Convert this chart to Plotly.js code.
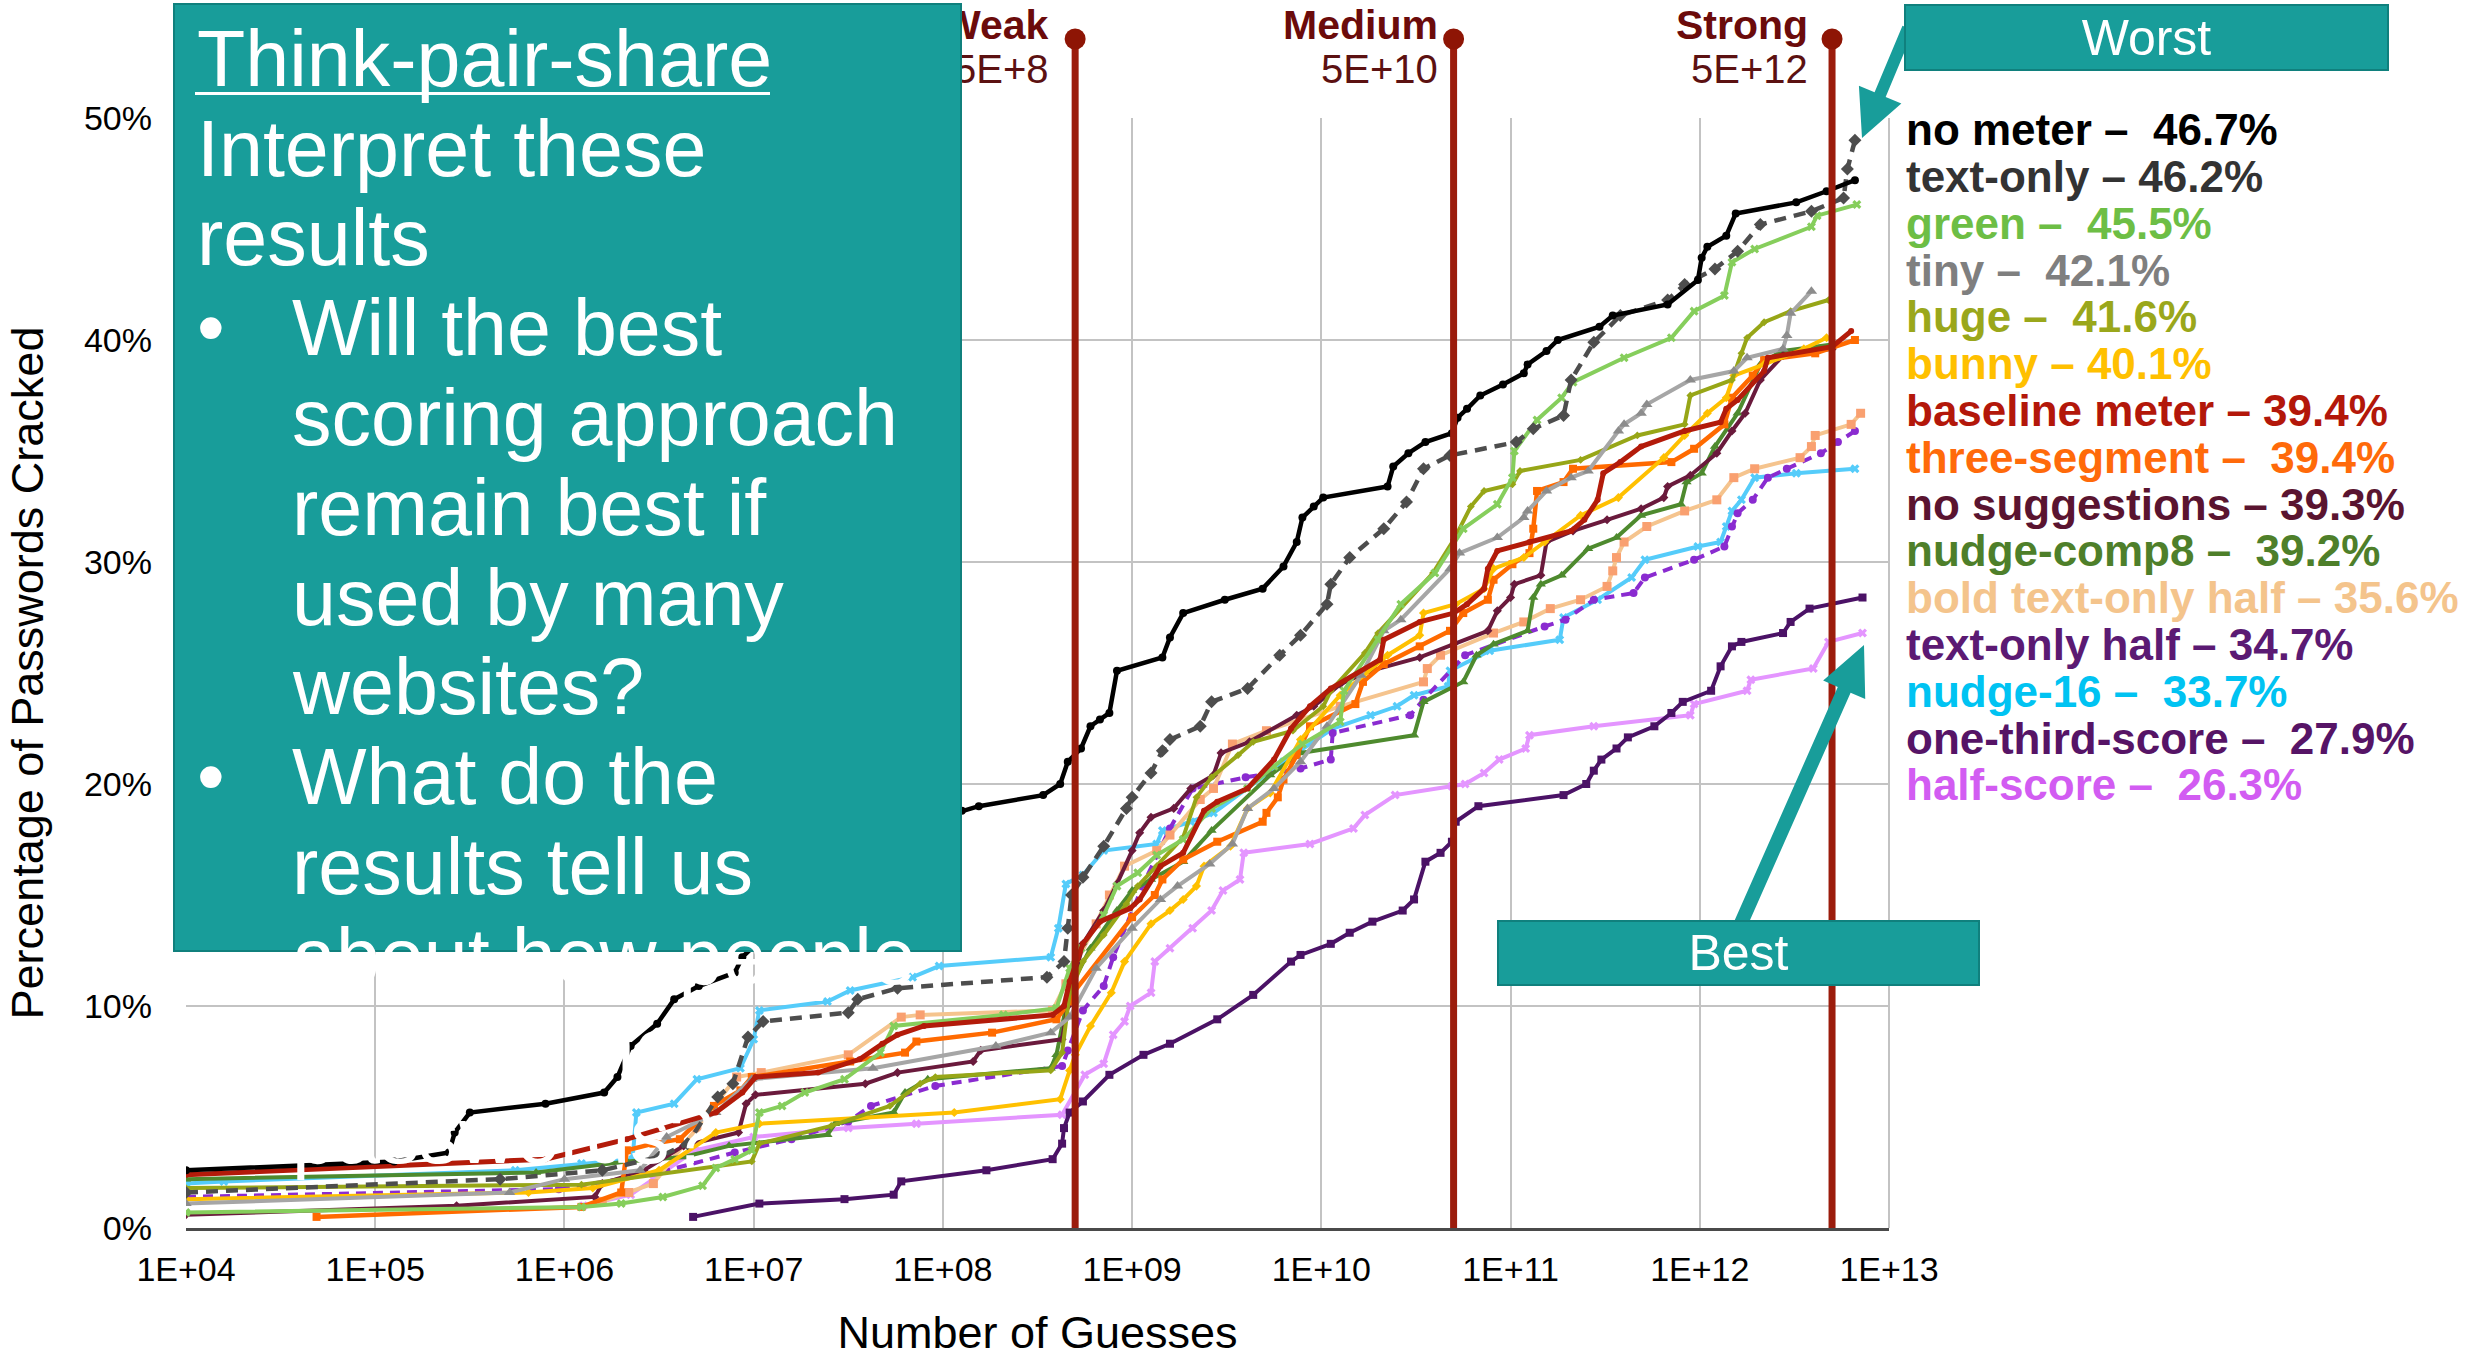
<!DOCTYPE html>
<html>
<head>
<meta charset="utf-8">
<script src="https://cdn.plot.ly/plotly-3.0.1.min.js"></script>
<style>
html,body{margin:0;padding:0;background:#ffffff;}
#chart{width:2468px;height:1358px;}
</style>
</head>
<body>
<div id="chart"></div>
<script>
// ---------------- DATA (x = log10 of number of guesses, y = % of passwords cracked) ----------------
const tickGuesses = [1e4, 1e5, 1e6, 1e7, 1e8, 1e9, 1e10, 1e11, 1e12, 1e13];
const tickLabels = ["1E+04","1E+05","1E+06","1E+07","1E+08","1E+09","1E+10","1E+11","1E+12","1E+13"];
const pctTicks = [0, 10, 20, 30, 40, 50];
const pctLabels = ["0%","10%","20%","30%","40%","50%"];

const thresholds = [5e8, 5e10, 5e12];
const thresholdNames = ["Weak", "Medium", "Strong"];
const thresholdLabels = ["5E+8", "5E+10", "5E+12"];

const noMeterX = [4.0,5.1,5.39,5.42,5.5,5.9,6.21,6.28,6.35,6.49,6.58,6.71,6.9,6.94,7.1,7.3,7.5,7.8,8.1,8.19,8.53,8.62,8.66,8.73,8.78,8.83,8.88,8.92,9.16,9.2,9.27,9.49,9.69,9.8,9.87,9.9,9.96,10.01,10.35,10.38,10.46,10.55,10.69,10.72,10.77,10.84,10.96,11.07,11.09,11.19,11.25,11.47,11.54,11.83,11.99,12.01,12.04,12.14,12.19,12.51,12.67,12.82];
const noMeterY = [2.6,3.0,3.4,4.3,5.2,5.6,6.1,6.8,8.2,9.2,10.3,10.9,11.5,12.2,13.5,15.0,16.5,18.0,18.8,19.0,19.5,20.0,21.0,21.6,22.6,22.9,23.2,25.1,25.7,26.6,27.7,28.3,28.8,29.8,30.9,32.0,32.5,32.9,33.4,34.3,34.9,35.4,35.8,36.5,36.9,37.5,38.0,38.5,38.9,39.5,40.0,40.6,41.1,41.6,42.7,43.7,44.2,44.7,45.7,46.2,46.7,47.2];

const textOnlyX = [4.0,5.66,6.2,6.5,6.65,6.81,6.89,6.97,7.05,7.5,7.55,7.76,8.55,8.64,8.66,8.68,8.74,8.85,8.97,9.0,9.1,9.16,9.2,9.36,9.42,9.61,9.78,9.89,10.03,10.05,10.15,10.33,10.45,10.54,10.68,11.03,11.12,11.28,11.32,11.44,11.58,11.83,11.92,12.08,12.2,12.32,12.59,12.76,12.78,12.82];
const textOnlyY = [1.6,2.2,2.6,3.2,3.8,5.9,6.5,8.6,9.3,9.7,10.3,10.8,11.3,12.0,13.5,15.0,15.8,17.2,18.9,19.4,20.5,21.5,22.0,22.6,23.7,24.3,25.8,26.7,28.1,29.0,30.2,31.5,32.7,34.2,34.8,35.4,36.0,36.6,38.2,39.9,41.1,41.8,42.5,43.2,44.0,45.2,45.8,46.4,47.7,49.0];

const greenX = [4.0,6.09,6.3,6.52,6.73,6.8,6.9,6.99,7.03,7.15,7.27,7.48,7.67,7.74,8.32,8.6,8.67,8.73,8.85,8.92,9.03,9.13,9.27,9.42,9.61,9.75,9.9,10.1,10.12,10.3,10.42,10.6,10.75,10.93,11.01,11.02,11.14,11.27,11.33,11.6,11.85,11.97,12.13,12.17,12.29,12.59,12.62,12.83];
const greenY = [0.7,0.95,1.1,1.4,1.9,2.7,3.1,3.5,5.2,5.5,6.1,6.7,7.9,9.1,9.6,9.9,11.7,12.6,14.1,15.4,16.0,16.8,17.5,18.9,19.8,20.8,21.8,22.8,24.2,26.5,28.1,29.5,31.5,32.6,33.8,35.0,36.4,37.4,38.1,39.2,40.1,41.3,42.0,43.5,44.1,45.1,45.6,46.1];

const tinyX = [4.0,5.71,6.0,6.4,6.54,6.8,6.99,7.63,8.28,8.57,8.67,8.81,9.0,9.15,9.24,9.41,9.53,9.61,9.75,9.89,10.03,10.21,10.33,10.42,10.68,10.73,10.93,11.07,11.09,11.19,11.32,11.41,11.57,11.6,11.69,11.72,11.95,12.18,12.25,12.44,12.46,12.48,12.59];
const tinyY = [1.1,1.6,2.2,2.6,4.1,5.2,6.7,7.2,8.2,8.8,9.5,11.7,13.5,14.8,15.4,16.4,17.3,18.9,19.8,21.0,22.6,24.9,26.9,27.4,29.7,30.4,31.1,32.0,32.3,33.2,33.8,34.1,35.9,36.2,36.7,37.1,38.2,38.6,39.2,39.6,40.2,41.2,42.2];

const hugeX = [4.0,6.09,6.99,7.03,7.41,7.72,7.88,7.96,8.57,8.63,8.67,8.74,8.85,8.97,9.03,9.13,9.27,9.34,9.42,9.56,9.64,9.85,10.01,10.05,10.23,10.3,10.59,10.7,10.79,10.86,11.01,11.05,11.37,11.67,11.92,11.95,12.17,12.22,12.25,12.34,12.48,12.68];
const hugeY = [1.8,1.95,3.0,3.8,4.6,5.5,6.5,6.8,7.1,7.9,10.6,12.0,13.2,14.6,15.4,16.3,17.6,19.4,20.3,21.3,21.9,22.4,23.5,24.2,25.9,26.8,29.5,31.0,32.5,33.2,33.5,34.1,34.6,35.7,36.2,37.5,38.2,39.4,40.1,40.8,41.3,41.8];

const bunnyX = [4.0,5.81,6.15,6.5,6.8,7.03,8.06,8.62,8.67,8.7,8.78,8.89,8.96,9.1,9.2,9.27,9.34,9.38,9.52,9.61,9.73,9.89,10.1,10.35,10.52,10.54,10.71,10.86,10.91,11.07,11.18,11.37,11.57,11.81,11.92,12.04,12.14,12.18,12.34,12.55,12.67];
const bunnyY = [1.3,1.6,1.8,2.6,4.3,4.7,5.2,5.8,7.1,7.8,9.1,10.6,12.0,13.7,14.3,14.8,15.4,16.3,17.2,18.9,19.6,22.0,24.0,25.8,26.7,27.7,28.1,28.8,29.7,30.2,30.9,32.1,32.9,34.7,35.7,36.7,37.4,38.4,38.9,39.6,40.1];

const baselineX = [4.0,5.9,6.33,6.8,6.94,7.01,7.34,7.56,7.68,7.76,7.9,8.58,8.64,8.67,8.74,8.83,8.99,9.04,9.15,9.27,9.38,9.45,9.61,9.75,9.84,9.94,10.05,10.31,10.33,10.52,10.7,10.77,10.86,10.88,10.93,11.1,11.32,11.39,11.46,11.49,11.58,11.69,11.92,12.11,12.14,12.2,12.34,12.36,12.7,12.8];
const baselineY = [2.4,3.1,4.0,5.2,6.1,6.8,7.0,7.6,8.3,8.7,9.1,9.6,10.0,11.1,12.8,13.8,14.4,14.8,16.3,16.9,18.8,19.2,19.8,21.1,22.5,23.5,24.3,25.6,26.5,27.3,27.7,28.1,28.8,29.7,30.5,30.9,31.4,31.9,32.8,34.0,34.5,35.2,35.9,36.3,36.9,37.3,38.6,39.2,39.7,40.4];

const threeSegX = [4.69,6.09,6.3,6.33,6.47,6.61,6.79,6.93,6.99,7.51,7.8,7.86,8.26,8.6,8.67,8.69,9.0,9.12,9.16,9.27,9.45,9.69,9.71,9.77,9.8,9.87,9.94,10.18,10.22,10.33,10.52,10.68,10.75,10.88,10.91,11.01,11.1,11.12,11.14,11.28,11.33,11.85,11.97,12.13,12.17,12.28,12.34,12.61,12.82];
const threeSegY = [0.5,0.95,1.6,3.5,3.8,4.0,5.5,6.2,6.8,7.5,7.9,8.4,8.8,9.4,10.2,10.6,14.0,15.0,15.7,16.6,17.4,18.3,18.7,19.4,20.2,21.3,22.6,23.6,24.6,25.4,26.2,26.9,27.7,28.3,29.2,29.9,30.4,31.5,33.2,33.6,34.2,34.5,35.1,36.2,37.4,38.4,39.1,39.4,40.0];

const noSuggX = [4.0,5.43,6.16,6.2,6.42,6.63,6.92,6.96,7.01,7.59,7.76,8.16,8.2,8.63,8.66,8.74,8.85,8.92,9.0,9.04,9.1,9.22,9.31,9.43,9.47,9.62,9.87,9.96,10.1,10.26,10.52,10.7,10.88,10.93,11.0,11.02,11.16,11.19,11.33,11.51,11.69,11.81,11.83,11.95,12.09,12.17,12.24,12.32,12.44,12.7];
const noSuggY = [0.6,1.0,1.4,2.0,2.6,3.7,4.3,5.6,6.0,6.5,7.0,7.5,8.0,8.5,10.0,12.8,14.3,15.5,17.0,17.8,18.5,18.9,19.8,20.4,21.4,21.9,23.1,23.5,24.5,25.1,25.7,26.3,26.9,27.8,28.4,29.0,29.4,30.9,31.4,31.9,32.4,32.9,33.4,33.9,34.9,35.9,36.7,38.2,39.3,39.6];

const nudgeComp8X = [4.0,5.85,6.33,6.63,6.87,7.39,7.43,7.74,7.8,7.92,8.57,8.6,8.67,8.78,8.92,9.0,9.1,9.27,9.42,9.73,9.89,10.49,10.54,10.75,10.82,10.91,11.09,11.12,11.16,11.27,11.41,11.56,11.69,11.9,11.93,12.01,12.08,12.2,12.32,12.43,12.7];
const nudgeComp8Y = [2.2,2.5,3.0,3.2,3.7,4.2,4.7,5.2,6.1,6.7,7.2,7.8,10.8,12.6,14.3,15.2,15.7,16.5,17.9,20.4,21.4,22.2,23.7,24.6,25.8,26.3,26.9,28.4,29.0,29.4,30.6,31.1,32.1,32.6,33.6,34.0,35.2,36.7,38.9,39.5,39.8];

const boldHalfX = [6.2,6.34,6.47,6.7,6.91,7.04,7.5,7.78,7.88,8.58,8.65,8.81,8.88,8.96,9.13,9.2,9.36,9.43,9.53,9.71,10.1,10.54,10.56,10.63,10.91,11.07,11.21,11.37,11.51,11.54,11.56,11.6,11.72,11.92,12.09,12.18,12.29,12.53,12.59,12.61,12.8,12.85];
const boldHalfY = [1.2,1.6,2.0,4.5,6.8,7.0,7.8,9.5,9.6,9.8,11.0,13.7,15.0,16.3,17.0,17.7,19.3,19.8,21.8,22.4,23.5,24.6,25.2,25.8,26.8,27.3,27.9,28.3,28.9,29.6,30.2,30.9,31.6,32.3,32.8,33.8,34.2,34.7,35.2,35.7,36.2,36.7];

const textHalfX = [4.0,5.97,6.5,6.9,7.2,7.5,7.62,7.96,8.63,8.66,8.74,8.85,8.9,9.06,9.2,9.32,9.6,9.89,10.05,10.06,10.47,10.54,10.76,11.18,11.29,11.44,11.65,11.71,11.97,12.13,12.17,12.2,12.28,12.36,12.46,12.64,12.73,12.82];
const textHalfY = [1.4,1.75,2.5,3.4,4.0,4.8,5.5,6.4,7.3,8.0,9.8,10.9,12.2,15.5,18.0,19.8,20.3,20.7,21.1,22.3,23.1,23.8,25.8,27.1,27.4,28.3,28.6,29.3,30.1,30.7,31.6,32.2,32.8,33.8,34.2,34.9,35.4,35.9];

const nudge16X = [4.0,4.2,5.74,6.09,6.36,6.38,6.58,6.7,6.93,7.0,7.03,7.39,7.51,7.84,7.98,8.57,8.61,8.65,8.74,8.85,9.13,9.16,9.31,9.43,9.8,10.06,10.26,10.4,10.49,10.67,10.68,10.89,11.26,11.28,11.46,11.64,11.71,11.99,12.11,12.14,12.17,12.22,12.29,12.51,12.82];
const nudge16Y = [2.0,2.1,2.6,2.9,3.1,5.2,5.6,6.7,7.2,8.5,9.8,10.2,10.7,11.3,11.8,12.2,13.5,15.5,15.9,17.0,17.3,17.9,18.3,18.7,21.0,22.5,23.1,23.5,24.0,24.4,25.1,26.0,26.5,27.5,28.3,29.3,30.1,30.7,30.9,31.6,32.3,32.8,33.8,34.0,34.2];

const oneThirdX = [6.68,7.03,7.48,7.74,7.78,8.23,8.58,8.63,8.64,8.67,8.74,8.88,9.06,9.2,9.45,9.64,9.84,9.89,10.05,10.15,10.27,10.43,10.49,10.55,10.63,10.69,10.71,10.83,11.28,11.4,11.44,11.48,11.56,11.62,11.76,11.85,11.91,12.06,12.11,12.17,12.22,12.44,12.48,12.58,12.86];
const oneThirdY = [0.5,1.1,1.3,1.5,2.1,2.6,3.1,3.8,4.5,5.2,5.7,6.9,7.8,8.3,9.4,10.5,12.0,12.3,12.8,13.3,13.8,14.3,14.8,16.5,16.9,17.4,18.3,19.0,19.5,20.0,20.6,21.1,21.6,22.1,22.6,23.2,23.7,24.2,25.3,26.2,26.4,26.8,27.3,27.9,28.4];

const halfScoreX = [6.1,6.35,6.47,6.69,7.0,7.5,7.86,8.63,8.75,8.85,8.9,8.96,8.99,9.1,9.12,9.2,9.32,9.42,9.48,9.57,9.59,9.94,10.17,10.23,10.39,10.69,10.76,10.86,10.94,11.08,11.1,11.44,11.95,11.97,12.25,12.27,12.6,12.68,12.86];
const halfScoreY = [1.0,1.5,2.2,3.5,4.1,4.5,4.7,5.1,6.9,7.4,8.7,9.3,10.0,10.6,12.0,12.6,13.5,14.3,15.2,15.7,16.9,17.3,18.0,18.6,19.5,19.9,20.0,20.5,21.1,21.6,22.2,22.6,23.1,23.6,24.2,24.7,25.2,26.4,26.8];

const legendLabels = [
  "no meter \u2013 \u00a046.7%", "text-only \u2013 46.2%", "green \u2013 \u00a045.5%", "tiny \u2013 \u00a042.1%",
  "huge \u2013 \u00a041.6%", "bunny \u2013 40.1%", "baseline meter \u2013 39.4%", "three-segment \u2013 \u00a039.4%",
  "no suggestions \u2013 39.3%", "nudge-comp8 \u2013 \u00a039.2%", "bold text-only half \u2013 35.6%",
  "text-only half \u2013 34.7%", "nudge-16 \u2013 \u00a033.7%", "one-third-score \u2013 \u00a027.9%", "half-score \u2013 \u00a026.3%"
];
const legendColors = ["#000000","#333333","#6DBE45","#7F7F7F","#9AA71B","#FFC000","#B3170A","#FF6A0A",
  "#5A1430","#4E7F2A","#F4C48C","#5B1A73","#00C3F2","#561466","#D25CF2"];

const boxLines = ["Think-pair-share","Interpret these","results","Will the best","scoring approach",
  "remain best if","used by many","websites?","What do the","results tell us","about how people",
  "choose their","passwords?"];

// ---------------- GEOMETRY HELPERS ----------------
const W = 2468, H = 1358, ML = 186, MR = 579, MT = 118, MB = 130;
const PW = W - ML - MR, PH = H - MT - MB;
const fx = v => (v - ML) / PW;          // pixel x -> paper x
const fy = v => (H - MB - v) / PH;      // pixel y -> paper y
const FONT = '"Liberation Sans", Arial, Helvetica, sans-serif';
const TEAL = '#189D9A', TEAL_BORDER = '#10807D';
const XMIN = 4, XMAX = 13;
const guessToPaper = g => (Math.log10(g) - XMIN) / (XMAX - XMIN);

function textAt(txt, x, baseline, size, color, anchor, extra) {
  return Object.assign({
    xref: 'paper', yref: 'paper', x: fx(x), y: fy(baseline - 0.35 * size),
    xanchor: anchor, yanchor: 'middle', text: txt, showarrow: false, borderpad: 0,
    font: {family: FONT, size: size, color: color}
  }, extra || {});
}

// ---------------- TRACES ----------------
const pow10 = arr => arr.map(v => Math.pow(10, v));
function series(name, xs, ys, color, width, dash, symbol, msize, mcolor) {
  return {
    type: 'scatter', mode: 'lines+markers', name: name, x: pow10(xs), y: ys,
    line: {color: color, width: width, dash: dash || 'solid'},
    marker: {symbol: symbol, size: msize, color: mcolor || color, line: {width: 0}},
    hoverinfo: 'skip', showlegend: false
  };
}

const traces = [
  series('half-score', halfScoreX, halfScoreY, '#E495FF', 4, null, 'x', 8),
  series('one-third-score', oneThirdX, oneThirdY, '#4B1266', 4, null, 'square', 8),
  series('nudge-16', nudge16X, nudge16Y, '#55CCFA', 4, null, 'x', 8),
  series('text-only half', textHalfX, textHalfY, '#8A2BD0', 4, '10px,7px', 'circle', 8),
  series('bold text-only half', boldHalfX, boldHalfY, '#F5C48E', 4, null, 'square', 9, '#F9A070'),
  series('nudge-comp8', nudgeComp8X, nudgeComp8Y, '#4E8A2E', 4, null, 'triangle-up', 9),
  series('no suggestions', noSuggX, noSuggY, '#6A1A3C', 4, null, 'diamond', 7),
  series('three-segment', threeSegX, threeSegY, '#FF6A00', 4.5, null, 'square', 8),
  series('bunny', bunnyX, bunnyY, '#FFC000', 4, null, 'diamond', 7),
  series('huge', hugeX, hugeY, '#97A617', 4, null, 'diamond', 6),
  series('tiny', tinyX, tinyY, '#A6A6A6', 4, null, 'triangle-up', 10, '#8C8C8C'),
  series('green', greenX, greenY, '#86CE5C', 4, null, 'x', 8),
  series('baseline meter', baselineX, baselineY, '#B31B0A', 5, null, 'circle', 6),
  series('text-only', textOnlyX, textOnlyY, '#4D4D4D', 4.5, '12px,8px', 'diamond', 10),
  series('no meter', noMeterX, noMeterY, '#000000', 4.5, null, 'circle', 8)
];

// ---------------- SHAPES ----------------
const knobTop = 39; // px from top of the figure
const shapes = [];
// right border of the plot frame
shapes.push({type: 'line', xref: 'paper', yref: 'paper', x0: 1, x1: 1, y0: 0, y1: 1,
  line: {color: '#C3C3C3', width: 2}, layer: 'below'});
thresholds.forEach(t => {
  shapes.push({type: 'line', xref: 'x', yref: 'paper', x0: t, x1: t, y0: 0, y1: fy(knobTop),
    line: {color: '#9B1C0C', width: 7}, layer: 'above'});
  shapes.push({type: 'circle', xref: 'paper', yref: 'paper', xsizemode: 'pixel', ysizemode: 'pixel',
    xanchor: guessToPaper(t), yanchor: fy(knobTop), x0: -10.5, x1: 10.5, y0: -10.5, y1: 10.5,
    fillcolor: '#8E1505', line: {width: 0}, layer: 'above'});
});

function arrowPath(tx, ty, hx, hy, sw, hl, hw) {
  const dx = hx - tx, dy = hy - ty, L = Math.hypot(dx, dy);
  const ux = dx / L, uy = dy / L, nx = -uy, ny = ux;
  const bx = hx - ux * hl, by = hy - uy * hl;
  const pts = [
    [tx + nx * sw / 2, ty + ny * sw / 2], [bx + nx * sw / 2, by + ny * sw / 2],
    [bx + nx * hw / 2, by + ny * hw / 2], [hx, hy],
    [bx - nx * hw / 2, by - ny * hw / 2], [bx - nx * sw / 2, by - ny * sw / 2],
    [tx - nx * sw / 2, ty - ny * sw / 2]
  ];
  return 'M' + pts.map(p => fx(p[0]).toFixed(5) + ',' + fy(p[1]).toFixed(5)).join(' L') + ' Z';
}
shapes.push({type: 'path', xref: 'paper', yref: 'paper', path: arrowPath(1908, 28, 1862, 138, 12, 47, 46),
  fillcolor: TEAL, line: {width: 0}, layer: 'above'});
shapes.push({type: 'path', xref: 'paper', yref: 'paper', path: arrowPath(1738, 930, 1864, 645, 14, 49, 46),
  fillcolor: TEAL, line: {width: 0}, layer: 'above'});

// ---------------- ANNOTATIONS ----------------
const annotations = [];
const labelGaps = [25, 15, 23];
thresholds.forEach((t, i) => {
  const lx = ML + guessToPaper(t) * PW - labelGaps[i];
  annotations.push(textAt('<b>' + thresholdNames[i] + '</b>', lx, 39, 41, '#6B0B0B', 'right'));
  annotations.push(textAt(thresholdLabels[i], lx, 83, 40, '#5C1111', 'right'));
});

// teal discussion box (drawn over the Weak label, as in the slide)
annotations.push({xref: 'paper', yref: 'paper', x: fx(173), y: fy(3), xanchor: 'left', yanchor: 'top',
  text: ' ', showarrow: false, width: 785, height: 945, bgcolor: TEAL, bordercolor: TEAL_BORDER,
  borderwidth: 2, borderpad: 0, font: {size: 10, color: TEAL}});
// underline of the heading
annotations.push({xref: 'paper', yref: 'paper', x: fx(195), y: fy(93), xanchor: 'left', yanchor: 'middle',
  text: ' ', showarrow: false, width: 575, height: 3, bgcolor: '#ffffff', borderwidth: 0, borderpad: 0,
  font: {size: 1, color: '#ffffff'}});

const boxBase0 = 86, boxStep = 89.8;
boxLines.forEach((ln, i) => {
  const x = i < 3 ? 196 : 291;
  annotations.push(textAt(ln, x, boxBase0 + i * boxStep, 79, '#ffffff', 'left'));
});
[3, 8].forEach(i => annotations.push(textAt('\u2022', 196, boxBase0 + i * boxStep, 79, '#ffffff', 'left')));

// Worst / Best boxes
annotations.push({xref: 'paper', yref: 'paper', x: fx(1904), y: fy(4), xanchor: 'left', yanchor: 'top',
  text: 'Worst', showarrow: false, width: 481, height: 63, bgcolor: TEAL, bordercolor: TEAL_BORDER,
  borderwidth: 2, borderpad: 0, font: {family: FONT, size: 50, color: '#ffffff'}});
annotations.push({xref: 'paper', yref: 'paper', x: fx(1497), y: fy(920), xanchor: 'left', yanchor: 'top',
  text: 'Best', showarrow: false, width: 479, height: 62, bgcolor: TEAL, bordercolor: TEAL_BORDER,
  borderwidth: 2, borderpad: 0, font: {family: FONT, size: 50, color: '#ffffff'}});

// right-hand labels
legendLabels.forEach((lab, i) => {
  annotations.push(textAt('<b>' + lab + '</b>', 1905, 145 + i * 46.8, 44, legendColors[i], 'left'));
});

// ---------------- LAYOUT ----------------
const layout = {
  width: W, height: H,
  margin: {l: ML, r: MR, t: MT, b: MB, pad: 0},
  paper_bgcolor: '#ffffff', plot_bgcolor: '#ffffff',
  font: {family: FONT, color: '#000000'},
  showlegend: false,
  xaxis: {
    type: 'log', range: [XMIN, XMAX], tickvals: tickGuesses, ticktext: tickLabels,
    showgrid: true, gridcolor: '#C3C3C3', gridwidth: 2, zeroline: false,
    showline: true, linecolor: '#4A4A4A', linewidth: 3, ticks: '',
    tickfont: {family: FONT, size: 34, color: '#000000'}, ticklabelstandoff: 9,
    title: {text: 'Number of Guesses', font: {family: FONT, size: 45, color: '#000000'}, standoff: 39},
    fixedrange: true
  },
  yaxis: {
    range: [0, 50], tickvals: pctTicks, ticktext: pctLabels,
    showgrid: true, gridcolor: '#C3C3C3', gridwidth: 2, zeroline: false, showline: false, ticks: '',
    tickfont: {family: FONT, size: 34, color: '#000000'}, ticklabelstandoff: 33,
    title: {text: 'Percentage of Passwords Cracked', font: {family: FONT, size: 45, color: '#000000'}, standoff: 26},
    fixedrange: true
  },
  shapes: shapes,
  annotations: annotations
};

Plotly.newPlot('chart', traces, layout, {displayModeBar: false, staticPlot: true});
</script>
</body>
</html>
